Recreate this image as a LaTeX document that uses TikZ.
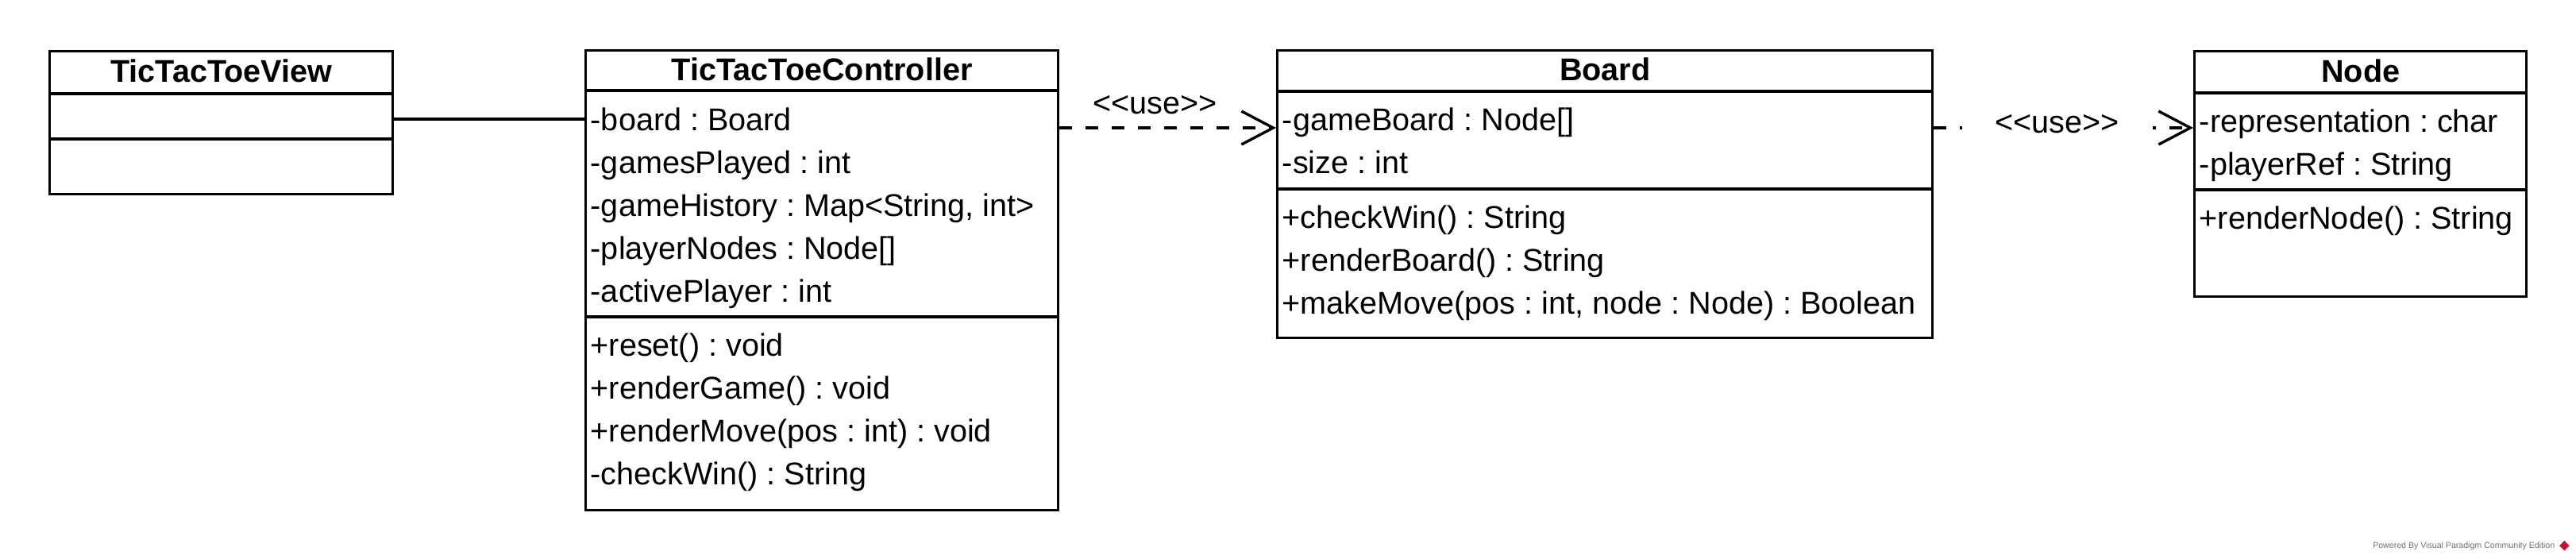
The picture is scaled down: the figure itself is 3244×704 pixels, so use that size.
\documentclass[tikz,border=0pt]{standalone}
\usepackage{fontspec}
\newfontfamily\umlfont{Liberation Sans}
\usepackage{tikz}
\usetikzlibrary{arrows.meta, positioning, calc, shapes.geometric}
\usepackage{xcolor}
\definecolor{vpgray}{HTML}{707070}
\definecolor{vpred}{HTML}{C8102E}
\frenchspacing

\tikzset{
  classbox/.style={draw, rectangle, line width=0.85pt, anchor=north west, inner sep=0pt},
  classname/.style={anchor=base, inner sep=0pt, font=\umlfont\bfseries\fontsize{9.9pt}{12pt}\selectfont},
  member/.style={anchor=base west, inner sep=0pt, font=\umlfont\fontsize{9.9pt}{12pt}\selectfont},
  compline/.style={line width=0.85pt},
  assoc/.style={line width=0.85pt},
  usedep/.style={line width=0.85pt, dash pattern=on 4pt off 4.25pt, -{Straight Barb[length=10pt,width=10.5pt]}},
  stereo/.style={inner sep=0pt, font=\umlfont\fontsize{9.9pt}{12pt}\selectfont},
}

\begin{document}
\begin{tikzpicture}[x=0.25pt, y=0.25pt]
  \useasboundingbox (0,0) rectangle (3244,-704);

  % TicTacToeView
  \node[classbox, minimum width=108pt, minimum height=45pt] (view) at (61,-63) {};
  \draw[compline] ($(view.north west)+(0,-55)$) -- ($(view.north east)+(0,-55)$);
  \draw[compline] ($(view.north west)+(0,-112)$) -- ($(view.north east)+(0,-112)$);
  \node[classname] (viewname) at ($(view.north)+(0,-41)$) {TicTacToeView};

  % TicTacToeController
  \node[classbox, minimum width=148.75pt, minimum height=144.75pt] (ctrl) at (736,-62) {};
  \draw[compline] ($(ctrl.north west)+(0,-52)$) -- ($(ctrl.north east)+(0,-52)$);
  \draw[compline] ($(ctrl.north west)+(0,-337)$) -- ($(ctrl.north east)+(0,-337)$);
  \node[classname] (ctrlname) at ($(ctrl.north)+(0,-40)$) {TicTacToeController};
  \foreach \txt [count=\i from 0] in {-board : Board, -gamesPlayed : int, {-gameHistory : Map<String, int>}, -playerNodes : Node[], -activePlayer : int}
    \node[member] (ctrl-attr-\i) at ($(ctrl.north west)+(7,-103-53.8*\i)$) {\txt};
  \foreach \txt [count=\i from 0] in {+reset() : void, +renderGame() : void, {+renderMove(pos : int) : void}, -checkWin() : String}
    \node[member] (ctrl-op-\i) at ($(ctrl.north west)+(7,-387-53.8*\i)$) {\txt};

  % Board
  \node[classbox, minimum width=206.25pt, minimum height=90.5pt] (board) at (1607,-62) {};
  \draw[compline] ($(board.north west)+(0,-53)$) -- ($(board.north east)+(0,-53)$);
  \draw[compline] ($(board.north west)+(0,-176)$) -- ($(board.north east)+(0,-176)$);
  \node[classname] (boardname) at ($(board.north)+(0,-40)$) {Board};
  \foreach \txt [count=\i from 0] in {-gameBoard : Node[], -size : int}
    \node[member] (board-attr-\i) at ($(board.north west)+(7,-103-53.8*\i)$) {\txt};
  \foreach \txt [count=\i from 0] in {+checkWin() : String, +renderBoard() : String, {+makeMove(pos : int, node : Node) : Boolean}}
    \node[member] (board-op-\i) at ($(board.north west)+(7,-226-53.8*\i)$) {\txt};

  % Node
  \node[classbox, minimum width=104.5pt, minimum height=77.25pt] (nodecls) at (2762,-63) {};
  \draw[compline] ($(nodecls.north west)+(0,-54)$) -- ($(nodecls.north east)+(0,-54)$);
  \draw[compline] ($(nodecls.north west)+(0,-176)$) -- ($(nodecls.north east)+(0,-176)$);
  \node[classname] (nodename) at ($(nodecls.north)+(0,-41)$) {Node};
  \foreach \txt [count=\i from 0] in {-representation : char, -playerRef : String}
    \node[member] (node-attr-\i) at ($(nodecls.north west)+(7,-104-53.8*\i)$) {\txt};
  \node[member] (node-op-0) at ($(nodecls.north west)+(7,-226)$) {+renderNode() : String};

  % connectors
  \coordinate (assocstart) at ($(view.north east)+(0,-87)$);
  \draw[assoc] (assocstart) -- (assocstart -| ctrl.west);
  \coordinate (dep1start) at ($(ctrl.north east)+(0,-99)$);
  \draw[usedep] (dep1start) -- node[stereo, pos=0.44, anchor=base, yshift=4.25pt] (use1) {<<use>>} (dep1start -| board.west);
  \coordinate (dep2start) at ($(board.north east)+(0,-99)$);
  \draw[usedep] (dep2start) -- node[stereo, pos=0.475, fill=white, minimum width=60pt, inner ysep=3pt, yshift=1.25pt] (use2) {<<use>>} (dep2start -| nodecls.west);

  % watermark
  \node[anchor=base east, inner sep=0pt, text=vpgray, font=\umlfont\fontsize{2.65pt}{3pt}\selectfont] (vpmark) at (3218,-690) {Powered By Visual Paradigm Community Edition};
  \node[diamond, fill=vpred, inner sep=0pt, minimum size=3.3pt, right=1pt of vpmark] (vplogo) {};
\end{tikzpicture}
\end{document}
